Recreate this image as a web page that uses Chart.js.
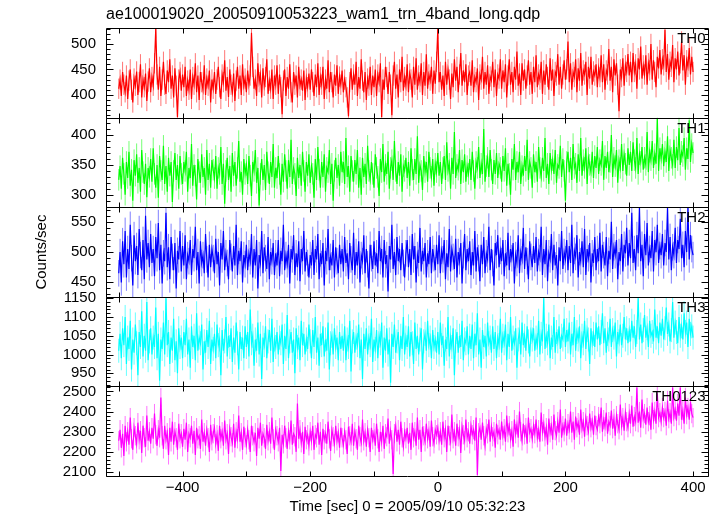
<!DOCTYPE html>
<html>
<head>
<meta charset="utf-8">
<script src="https://cdn.jsdelivr.net/npm/chart.js@4.4.1/dist/chart.umd.min.js"></script>
<style>
  html, body { margin: 0; padding: 0; background: #fff; }
</style>
</head>
<body>
<canvas id="lightCurve" width="718" height="516"></canvas>
<script>
// time bins: first bin and bin width in seconds
const binStart = -500;
const binWidth = 2;

// counts/sec per band (one value per 2 s bin, -500 .. 400)
const th0 = [
  412, 430, 398, 445, 420, 405, 438, 392, 428, 450, 410, 385, 432, 418, 446, 400, 425, 460, 395, 430, 415, 442, 388, 426, 452,
  405, 435, 418, 462, 531, 440, 410, 455, 398, 430, 465, 420, 402, 448, 425, 470, 412, 438, 395, 452, 418, 356, 430, 445, 408,
  440, 415, 455, 398, 428, 410, 450, 392, 435, 420, 462, 405, 438, 390, 445, 425, 410, 458, 400, 432, 418, 448, 385, 430, 412,
  445, 402, 430, 455, 415, 392, 440, 425, 468, 408, 435, 396, 450, 420, 405, 442, 388, 428, 455, 412, 438, 400, 460, 418, 432,
  405, 448, 420, 438, 522, 455, 412, 430, 398, 462, 425, 440, 395, 452, 418, 435, 470, 402, 428, 412, 450, 392, 438, 420, 458,
  402, 440, 415, 362, 428, 450, 398, 435, 412, 460, 405, 385, 445, 420, 438, 395, 455, 418, 430, 408, 448, 390, 432, 415, 442,
  410, 450, 425, 398, 440, 415, 462, 400, 435, 420, 455, 392, 430, 412, 468, 405, 445, 425, 395, 440, 418, 458, 402, 436, 420,
  448, 405, 430, 415, 395, 358, 425, 452, 410, 440, 420, 465, 398, 435, 412, 470, 428, 405, 445, 390, 432, 418, 455, 400, 438,
  415, 450, 398, 440, 425, 462, 356, 430, 410, 455, 435, 402, 445, 420, 360, 438, 465, 412, 440, 395, 450, 425, 475, 408, 435,
  418, 460, 405, 442, 430, 395, 455, 420, 472, 410, 438, 425, 462, 400, 445, 418, 480, 412, 440, 428, 455, 402, 448, 422, 465,
  530, 425, 445, 410, 438, 398, 465, 420, 450, 430, 392, 442, 415, 470, 428, 455, 405, 440, 482, 418, 448, 425, 460, 400, 438,
  445, 418, 468, 405, 435, 425, 452, 390, 440, 430, 475, 412, 445, 420, 458, 402, 436, 428, 465, 415, 450, 398, 440, 432, 470,
  412, 448, 425, 460, 395, 438, 470, 420, 445, 405, 455, 430, 485, 418, 442, 400, 462, 428, 450, 412, 438, 468, 420, 445, 402,
  455, 425, 478, 415, 440, 430, 465, 402, 448, 420, 460, 435, 410, 472, 428, 450, 398, 445, 438, 480, 420, 455, 412, 440, 468,
  430, 450, 505, 425, 462, 410, 445, 435, 470, 405, 452, 428, 482, 418, 448, 440, 465, 400, 455, 432, 475, 420, 446, 438, 460,
  415, 452, 435, 478, 425, 460, 410, 448, 440, 490, 428, 455, 405, 470, 438, 462, 420, 368, 450, 435, 472, 418, 458, 445, 480,
  438, 465, 425, 482, 445, 460, 412, 472, 450, 495, 432, 458, 440, 478, 420, 462, 448, 500, 430, 468, 445, 415, 475, 452, 488,
  440, 470, 458, 528, 445, 480, 430, 465, 455, 498, 425, 472, 450, 485, 438, 462, 505, 448, 478, 420, 468, 455, 492, 440, 475,
  445
];
const th1 = [
  325, 348, 310, 362, 335, 300, 355, 328, 372, 315, 342, 290, 358, 332, 368, 320, 345, 305, 375, 338, 318, 352, 296, 345, 330,
  360, 322, 378, 335, 312, 350, 295, 365, 340, 325, 382, 318, 348, 305, 362, 332, 355, 288, 340, 370, 325, 350, 310, 365, 335,
  318, 355, 340, 372, 305, 345, 328, 385, 315, 350, 332, 292, 360, 338, 320, 368, 330, 345, 300, 375, 325, 352, 312, 358, 342,
  328, 365, 310, 345, 335, 380, 318, 352, 285, 340, 362, 325, 348, 305, 370, 332, 355, 315, 345, 390, 322, 338, 300, 360, 335,
  350, 318, 365, 332, 298, 355, 340, 375, 320, 345, 282, 335, 360, 325, 350, 308, 372, 338, 318, 355, 330, 385, 312, 345, 328,
  365, 335, 300, 352, 322, 368, 340, 310, 358, 330, 392, 318, 345, 335, 298, 362, 328, 350, 315, 372, 340, 305, 355, 332, 368,
  320, 348, 335, 295, 360, 325, 380, 342, 312, 355, 330, 368, 305, 345, 338, 375, 318, 352, 290, 340, 362, 328, 350, 315, 372,
  338, 355, 318, 395, 330, 348, 305, 365, 340, 322, 358, 335, 375, 312, 345, 300, 362, 330, 352, 318, 382, 340, 325, 355, 335,
  312, 368, 345, 330, 298, 360, 338, 385, 322, 350, 335, 372, 310, 345, 358, 325, 390, 340, 318, 355, 332, 368, 305, 348, 340,
  362, 328, 355, 315, 378, 342, 325, 360, 335, 398, 320, 350, 340, 308, 365, 338, 355, 322, 372, 345, 330, 360, 315, 352, 338,
  370, 332, 355, 318, 345, 365, 325, 388, 340, 352, 310, 362, 335, 405, 328, 350, 342, 375, 318, 358, 338, 368, 322, 348, 335,
  360, 325, 372, 340, 310, 355, 345, 380, 328, 352, 335, 410, 322, 348, 362, 330, 375, 342, 318, 358, 335, 370, 328, 352, 345,
  322, 365, 340, 378, 315, 352, 335, 300, 360, 342, 385, 325, 355, 338, 372, 318, 348, 332, 365, 340, 392, 325, 355, 345, 312,
  368, 338, 355, 322, 380, 345, 330, 362, 340, 395, 328, 352, 318, 370, 342, 358, 335, 375, 320, 350, 345, 382, 330, 360, 340,
  290, 355, 372, 338, 362, 325, 385, 345, 352, 320, 368, 340, 395, 332, 358, 345, 378, 318, 362, 350, 338, 372, 328, 365, 345,
  380, 335, 358, 350, 390, 325, 365, 345, 372, 338, 355, 400, 330, 362, 348, 375, 320, 358, 345, 385, 340, 368, 352, 332, 378,
  350, 372, 340, 388, 358, 345, 395, 335, 368, 355, 380, 342, 362, 350, 405, 338, 372, 358, 390, 345, 368, 352, 428, 340, 378,
  360, 385, 348, 372, 355, 398, 340, 375, 362, 350, 392, 345, 380, 358, 412, 350, 372, 365, 395, 342, 378, 360, 425, 355, 385,
  370
];
const th2 = [
  465, 500, 450, 518, 480, 535, 458, 505, 472, 545, 490, 445, 528, 485, 510, 462, 538, 495, 470, 520, 455, 560, 488, 515, 475,
  530, 482, 505, 460, 525, 490, 548, 470, 512, 448, 498, 485, 565, 475, 508, 455, 525, 492, 470, 515, 440, 502, 488, 535, 468,
  510, 478, 528, 455, 495, 485, 520, 462, 505, 490, 542, 470, 500, 448, 518, 482, 495, 465, 530, 488, 458, 512, 475, 505, 490,
  465, 522, 480, 500, 445, 515, 488, 535, 470, 498, 482, 455, 520, 492, 468, 510, 478, 545, 462, 502, 485, 518, 450, 495, 480,
  512, 470, 498, 485, 530, 458, 505, 478, 520, 440, 495, 482, 535, 465, 508, 490, 472, 525, 455, 500, 485, 515, 462, 498, 478,
  520, 460, 502, 485, 545, 470, 495, 480, 512, 448, 505, 488, 528, 462, 498, 475, 518, 452, 505, 485, 535, 468, 500, 482, 458,
  495, 478, 520, 462, 505, 488, 530, 455, 498, 480, 515, 445, 502, 485, 538, 470, 492, 478, 520, 458, 508, 485, 465, 512, 480,
  505, 468, 525, 482, 498, 455, 515, 488, 470, 532, 462, 500, 478, 518, 450, 495, 485, 528, 465, 505, 480, 440, 512, 490, 472,
  518, 478, 498, 465, 535, 485, 505, 458, 520, 480, 495, 435, 510, 488, 545, 472, 500, 462, 525, 485, 505, 470, 515, 482, 458,
  498, 520, 475, 505, 462, 530, 488, 510, 450, 495, 482, 540, 468, 502, 485, 515, 458, 498, 480, 525, 465, 505, 490, 470, 512,
  480, 528, 465, 502, 488, 520, 455, 498, 475, 538, 468, 505, 492, 472, 522, 458, 500, 485, 515, 448, 495, 530, 470, 505, 485,
  518, 462, 500, 478, 535, 468, 508, 490, 452, 512, 480, 525, 465, 498, 488, 542, 470, 505, 482, 445, 515, 495, 528, 475, 502,
  485, 520, 460, 498, 478, 532, 470, 505, 490, 515, 448, 495, 482, 528, 465, 500, 488, 540, 472, 508, 485, 455, 518, 492, 475,
  510, 482, 525, 468, 500, 490, 542, 462, 505, 480, 520, 452, 498, 488, 530, 470, 512, 478, 495, 445, 508, 485, 535, 472, 500,
  488, 520, 470, 510, 482, 545, 465, 502, 492, 528, 458, 500, 485, 518, 475, 538, 462, 505, 490, 515, 450, 498, 482, 525, 470,
  505, 485, 532, 468, 512, 495, 478, 525, 460, 502, 488, 550, 472, 508, 495, 520, 455, 500, 485, 530, 468, 512, 498, 540, 478,
  515, 490, 565, 482, 505, 470, 528, 498, 574, 485, 512, 460, 530, 495, 548, 478, 505, 490, 535, 468, 520, 500, 545, 482, 510,
  495, 530, 478, 515, 500, 574, 488, 525, 470, 508, 495, 540, 482, 520, 505, 555, 490, 512, 475, 535, 500, 574, 488, 528, 505,
  495
];
const th3 = [
  1010, 1055, 990, 1070, 1025, 1100, 975, 1045, 1015, 1090, 960, 1040, 1005, 1080, 1030, 945, 1060, 1020, 1115, 995, 1050, 1010, 1140, 985, 1035,
  1070, 1000, 1045, 1020, 1125, 990, 1055, 930, 1040, 1015, 1085, 1000, 1150, 1025, 1060, 975, 1045, 1010, 1095, 985, 1035, 950, 1070, 1020, 1045,
  990, 1060, 1025, 1095, 1000, 1040, 965, 1075, 1020, 1050, 985, 1110, 1010, 1045, 1030, 1080, 960, 1035, 1005, 1065, 1020, 1090, 975, 1040, 1015,
  1055, 990, 1080, 1025, 1040, 945, 1065, 1010, 1035, 1100, 995, 1050, 1020, 1070, 980, 1045, 1005, 1085, 1030, 960, 1060, 1015, 1045, 990, 1075,
  1020, 1060, 995, 1120, 1030, 1050, 970, 1040, 1010, 1085, 1000, 1055, 935, 1045, 1025, 1075, 990, 1035, 1065, 1010, 1095, 980, 1040, 1020, 1060,
  1000, 1045, 1030, 1080, 975, 1050, 1015, 1105, 990, 1035, 1060, 1005, 1040, 950, 1070, 1020, 1045, 985, 1090, 1025, 1055, 1000, 1040, 1015, 1080,
  1035, 990, 1065, 1020, 1100, 1005, 1045, 970, 1055, 1025, 1075, 995, 1040, 1010, 1085, 960, 1030, 1050, 1000, 1070, 1020, 1045, 985, 1060, 1015,
  1050, 1010, 1075, 985, 1040, 1020, 1090, 955, 1035, 1060, 1005, 1045, 1025, 1080, 990, 1040, 935, 1055, 1015, 1070, 1000, 1045, 1025, 1095, 980,
  1040, 1015, 1065, 990, 1050, 1030, 1085, 965, 1045, 1010, 1070, 1000, 1040, 925, 1055, 1020, 1080, 1005, 1035, 1060, 985, 1050, 1015, 1100, 1000,
  1045, 1020, 1075, 995, 1060, 1030, 975, 1085, 1015, 1050, 1000, 1040, 1070, 960, 1035, 1055, 1010, 1090, 1025, 1045, 990, 1065, 1020, 1040, 1005,
  1060, 1000, 1085, 1025, 1050, 970, 1040, 1015, 1100, 995, 1045, 1020, 1070, 945, 1035, 1060, 1005, 1050, 1020, 1090, 985, 1040, 1030, 1075, 1000,
  1050, 1015, 1080, 990, 1055, 1025, 1110, 1000, 1040, 965, 1065, 1020, 1050, 995, 1085, 1030, 1045, 1005, 1075, 1015, 1060, 990, 1045, 1025, 1095,
  1005, 1050, 1030, 1080, 985, 1055, 1020, 1100, 1010, 1045, 1030, 1070, 965, 1040, 1060, 1000, 1085, 1025, 1050, 1010, 1075, 1035, 995, 1060, 1040,
  1070, 1010, 1045, 1025, 1090, 1000, 1055, 1035, 1150, 1015, 1050, 1030, 1080, 990, 1045, 1020, 1100, 1005, 1060, 1035, 1075, 1015, 1050, 1040, 1095,
  1020, 1065, 1035, 1085, 1000, 1055, 1025, 1100, 1010, 1060, 1040, 1075, 990, 1050, 1030, 1090, 1015, 1065, 1040, 975, 1070, 1030, 1055, 1020, 1085,
  1040, 1075, 1025, 1060, 1110, 1030, 1070, 1005, 1055, 1040, 1095, 1020, 1065, 1045, 1085, 995, 1060, 1035, 1080, 1025, 1050, 1100, 1040, 1070, 1030,
  1065, 1035, 1090, 1045, 1075, 1020, 1060, 1150, 1040, 1080, 1030, 1065, 1105, 1045, 1070, 1020, 1090, 1050, 1060, 1035, 1120, 1045, 1075, 1030, 1085,
  1050, 1095, 1040, 1070, 1125, 1055, 1080, 1035, 1065, 1140, 1045, 1085, 1060, 1030, 1100, 1050, 1075, 1040, 1110, 1060, 1085, 1020, 1095, 1055, 1075,
  1045
];
const th0123 = [
  2255, 2310, 2220, 2290, 2180, 2330, 2250, 2300, 2235, 2370, 2265, 2210, 2320, 2280, 2240, 2345, 2260, 2305, 2195, 2330, 2270, 2225, 2380, 2255, 2300,
  2240, 2320, 2265, 2390, 2285, 2230, 2310, 2270, 2470, 2280, 2215, 2330, 2260, 2295, 2185, 2320, 2250, 2350, 2235, 2300, 2270, 2210, 2340, 2265, 2290,
  2225, 2315, 2260, 2345, 2200, 2290, 2270, 2330, 2240, 2305, 2185, 2320, 2265, 2280, 2215, 2360, 2250, 2295, 2230, 2310, 2270, 2200, 2335, 2255, 2290,
  2320, 2240, 2285, 2205, 2330, 2265, 2300, 2230, 2355, 2260, 2290, 2190, 2315, 2275, 2245, 2340, 2220, 2300, 2265, 2380, 2250, 2295, 2210, 2325, 2270,
  2235, 2310, 2260, 2200, 2330, 2280, 2250, 2295, 2180, 2320, 2265, 2345, 2230, 2290, 2270, 2215, 2335, 2255, 2300, 2240, 2370, 2265, 2210, 2310, 2280,
  2250, 2320, 2105, 2285, 2240, 2330, 2270, 2215, 2300, 2260, 2355, 2235, 2290, 2275, 2200, 2440, 2265, 2310, 2245, 2300, 2190, 2325, 2260, 2285, 2230,
  2300, 2255, 2330, 2210, 2285, 2270, 2345, 2235, 2300, 2185, 2315, 2260, 2290, 2240, 2350, 2265, 2205, 2310, 2275, 2240, 2330, 2255, 2295, 2220, 2320,
  2270, 2235, 2300, 2260, 2190, 2325, 2280, 2250, 2340, 2230, 2300, 2265, 2210, 2330, 2275, 2245, 2360, 2255, 2295, 2225, 2310, 2270, 2200, 2320, 2260,
  2295, 2230, 2340, 2265, 2200, 2300, 2250, 2330, 2215, 2290, 2275, 2365, 2240, 2305, 2260, 2090, 2290, 2330, 2250, 2310, 2235, 2350, 2270, 2225, 2300,
  2265, 2320, 2240, 2295, 2210, 2345, 2270, 2300, 2230, 2370, 2260, 2310, 2200, 2325, 2280, 2250, 2340, 2265, 2305, 2225, 2355, 2275, 2240, 2310, 2285,
  2320, 2255, 2300, 2235, 2350, 2270, 2310, 2200, 2330, 2280, 2250, 2385, 2265, 2300, 2230, 2340, 2275, 2310, 2195, 2325, 2285, 2255, 2360, 2270, 2300,
  2240, 2330, 2285, 2310, 2255, 2370, 2085, 2295, 2320, 2260, 2345, 2280, 2230, 2315, 2290, 2360, 2250, 2325, 2275, 2300, 2220, 2340, 2285, 2310, 2260,
  2350, 2280, 2315, 2250, 2380, 2295, 2330, 2265, 2305, 2225, 2360, 2290, 2335, 2270, 2400, 2300, 2255, 2340, 2285, 2320, 2240, 2370, 2295, 2315, 2265,
  2330, 2290, 2360, 2270, 2310, 2250, 2395, 2300, 2340, 2275, 2320, 2235, 2365, 2295, 2330, 2260, 2385, 2305, 2280, 2350, 2295, 2410, 2270, 2330, 2300,
  2365, 2280, 2340, 2310, 2400, 2295, 2350, 2260, 2375, 2320, 2345, 2285, 2410, 2315, 2350, 2275, 2370, 2330, 2300, 2390, 2320, 2355, 2285, 2380, 2330,
  2310, 2375, 2340, 2420, 2300, 2360, 2325, 2395, 2290, 2350, 2330, 2405, 2315, 2365, 2280, 2380, 2340, 2310, 2435, 2330, 2370, 2305, 2395, 2350, 2320,
  2390, 2340, 2430, 2325, 2375, 2350, 2520, 2345, 2400, 2320, 2460, 2365, 2390, 2335, 2420, 2350, 2380, 2310, 2445, 2360, 2400, 2340, 2490, 2370, 2395,
  2350, 2420, 2370, 2400, 2330, 2455, 2365, 2395, 2340, 2520, 2375, 2410, 2355, 2440, 2380, 2520, 2360, 2405, 2340, 2470, 2385, 2420, 2360, 2450, 2390,
  2370
];

// typical 1-sigma error bar per band (counts/sec)
const bandErrors = [20, 18, 22, 32, 48];

const bandNames = ["TH0", "TH1", "TH2", "TH3", "TH0123"];
const bandSeries = [th0, th1, th2, th3, th0123];
const bandColors = ["#ff0000", "#00ff00", "#0000ff", "#00ffff", "#ff00ff"];
const barColors = ["rgba(255,0,0,0.55)", "rgba(0,255,0,0.55)", "rgba(0,0,255,0.5)", "rgba(0,255,255,0.6)", "rgba(255,0,255,0.55)"];

// y range and labelled ticks for each panel, top to bottom
const yMins = [355, 279, 426, 915, 2080];
const yMaxs = [531, 429, 574, 1153.5, 2525];
const yTickLabels = [
  [400, 450, 500],
  [300, 350, 400],
  [450, 500, 550],
  [950, 1000, 1050, 1100, 1150],
  [2100, 2200, 2300, 2400, 2500]
];
const yMinorSteps = [10, 10, 10, 10, 20];

const xTickLabels = [-400, -200, 0, 200, 400];
const xMinorStep = 100;

const FONT = "'Liberation Sans', Arial, Helvetica, sans-serif";

function fmt(v) {
  return v < 0 ? "\u2212" + (-v) : String(v);
}

// each line stays inside its own panel, error bars under it,
// then frames + inward ticks + band names on top
const panelFrames = {
  id: "panelFrames",
  beforeDatasetDraw(chart, args) {
    const meta = chart.getDatasetMeta(args.index);
    const xs = meta.xScale, ys = meta.yScale;
    const ctx = chart.ctx;
    ctx.save();
    ctx.beginPath();
    ctx.rect(xs.left, ys.top, xs.right - xs.left, ys.bottom - ys.top);
    ctx.clip();

    const k = args.index;
    const err = bandErrors[k];
    const vals = bandSeries[k];
    ctx.strokeStyle = barColors[k];
    ctx.lineWidth = 1;
    ctx.beginPath();
    meta.data.forEach((pt, i) => {
      ctx.moveTo(pt.x, ys.getPixelForValue(vals[i] + err));
      ctx.lineTo(pt.x, ys.getPixelForValue(vals[i] - err));
    });
    ctx.stroke();
  },
  afterDatasetDraw(chart) {
    chart.ctx.restore();
  },
  afterDraw(chart) {
    const ctx = chart.ctx;
    const xs = chart.scales.x;
    const L = Math.round(xs.left) + 0.5;
    const R = Math.round(xs.right) - 0.5;
    ctx.save();
    ctx.strokeStyle = "#000";
    ctx.lineWidth = 1;

    bandNames.forEach((name, k) => {
      const ys = chart.scales["y" + k];
      const T = Math.round(ys.top) + 0.5;
      const B = Math.round(ys.bottom) + 0.5;

      ctx.beginPath();
      ctx.rect(L, T, R - L, B - T);

      // y ticks, both sides
      const step = yMinorSteps[k];
      for (let v = Math.ceil(ys.min / step) * step; v <= ys.max; v += step) {
        const py = Math.round(ys.getPixelForValue(v)) + 0.5;
        const len = yTickLabels[k].includes(v) ? 7 : 4;
        ctx.moveTo(L, py); ctx.lineTo(L + len, py);
        ctx.moveTo(R, py); ctx.lineTo(R - len, py);
      }

      // x ticks, top and bottom of each panel
      for (let t = Math.ceil(xs.min / xMinorStep) * xMinorStep; t <= xs.max; t += xMinorStep) {
        const px = Math.round(xs.getPixelForValue(t)) + 0.5;
        ctx.moveTo(px, T); ctx.lineTo(px, T + 5);
        ctx.moveTo(px, B); ctx.lineTo(px, B - 5);
      }
      ctx.stroke();

      ctx.fillStyle = "#000";
      ctx.font = "15px " + FONT;
      ctx.textAlign = "right";
      ctx.textBaseline = "top";
      ctx.fillText(name, R - 3, T + 3);
    });
    ctx.restore();
  }
};

function yScale(k, withTitle) {
  return {
    type: "linear",
    position: "left",
    stack: "panels",
    stackWeight: 1,
    min: yMins[k],
    max: yMaxs[k],
    border: { display: false },
    grid: { display: false, drawTicks: false },
    afterBuildTicks: s => { s.ticks = yTickLabels[k].map(v => ({ value: v })); },
    afterFit: s => { s.width = 106; },
    ticks: {
      autoSkip: false,
      padding: 10,
      color: "#000",
      font: { family: FONT, size: 15 },
      callback: v => fmt(v)
    },
    title: {
      display: withTitle,
      text: "Counts/sec",
      color: "#000",
      font: { family: FONT, size: 15 },
      padding: { top: 33, bottom: 0 }
    }
  };
}

const datasets = bandSeries.map((vals, k) => ({
  label: bandNames[k],
  data: vals.map((v, i) => ({ x: binStart + i * binWidth, y: v })),
  yAxisID: "y" + k,
  xAxisID: "x",
  borderColor: bandColors[k],
  borderWidth: 1.2,
  pointRadius: 0,
  tension: 0,
  fill: false
}));

new Chart(document.getElementById("lightCurve"), {
  type: "line",
  data: { datasets },
  options: {
    responsive: false,
    animation: false,
    devicePixelRatio: 1,
    layout: { padding: { left: 0, right: 9, top: 0, bottom: 0 } },
    plugins: {
      legend: { display: false },
      tooltip: { enabled: false },
      title: {
        display: true,
        text: "ae100019020_20050910053223_wam1_trn_4band_long.qdp",
        align: "start",
        fullSize: false,
        color: "#000",
        font: { family: FONT, size: 16, weight: "normal" },
        padding: { top: 5, bottom: 4 }
      }
    },
    scales: {
      x: {
        type: "linear",
        position: "bottom",
        min: -520,
        max: 425,
        border: { display: false },
        grid: { display: false, drawTicks: false },
        afterBuildTicks: s => { s.ticks = xTickLabels.map(v => ({ value: v })); },
        afterFit: s => { s.height = 40; },
        ticks: {
          padding: 3,
          maxRotation: 0,
          color: "#000",
          font: { family: FONT, size: 15 },
          callback: v => fmt(v)
        },
        title: {
          display: true,
          text: "Time [sec] 0 = 2005/09/10 05:32:23",
          color: "#000",
          font: { family: FONT, size: 15 },
          padding: { top: 0, bottom: 0 }
        }
      },
      // defined bottom-up: the last left axis of a stack is placed on top
      y4: yScale(4, false),
      y3: yScale(3, false),
      y2: yScale(2, true),
      y1: yScale(1, false),
      y0: yScale(0, false)
    }
  },
  plugins: [panelFrames]
});
</script>
</body>
</html>
